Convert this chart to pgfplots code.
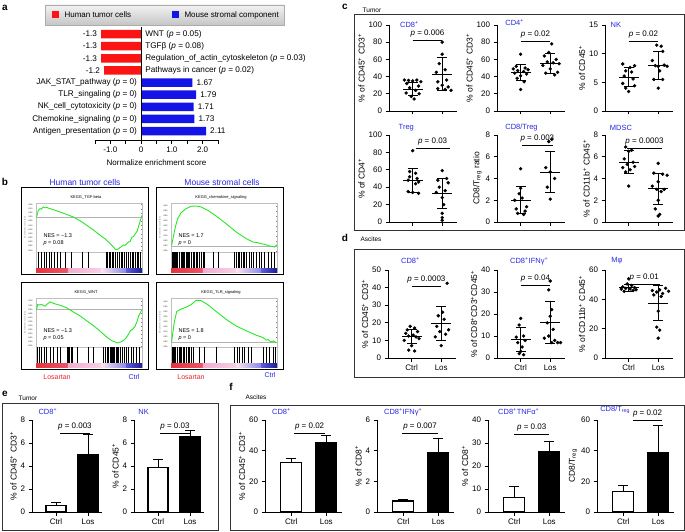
\documentclass[border=0pt]{standalone}
\usepackage{fontspec}
\setmainfont{Liberation Sans}
\usepackage{pgfplots}
\pgfplotsset{compat=1.18}
\definecolor{myblue}{RGB}{40,40,225}
\definecolor{myred}{RGB}{230,40,50}
\definecolor{barred}{RGB}{250,20,20}
\definecolor{barblue}{RGB}{20,20,230}
\definecolor{esgreen}{RGB}{40,230,40}
\definecolor{cbred}{RGB}{230,50,60}
\definecolor{cbpink}{RGB}{242,172,208}
\definecolor{cbblue}{RGB}{40,40,210}
\newcommand{\fs}[1]{\fontsize{#1}{#1}\selectfont}
\pgfplotsset{
  base/.style={scale only axis, clip=false, /pgf/number format/assume math mode=true,
    axis x line*=bottom, axis y line*=left, tick align=outside,
    major tick length=3.5pt, axis line style={line width=0.8pt}, tick style={line width=0.8pt, black},
    tick label style={font=\fs{8}}, label style={font=\fs{8.5}},
    xtick={1,2}, xmin=0.2, xmax=2.5, ymin=0, ylabel shift=-3pt},
  scat/.style={base, width=68pt, xticklabels={}},
  scatd/.style={base, width=68pt, xticklabels={Ctrl,Los}},
  barax/.style={base, xmin=0.25, xmax=2.45, xticklabels={Ctrl,Los}},
  pts/.style={only marks, mark=*, mark size=1.5pt, black},
  msd/.style={only marks, mark=-, mark size=10pt, black, mark options={line width=0.9pt},
    error bars/.cd, y dir=both, y explicit, error bar style={line width=0.9pt, black},
    error mark options={rotate=90, mark size=5pt, line width=0.9pt, black}},
  ctrlbar/.style={ybar, fill=white, draw=black, line width=1.1pt,
    error bars/.cd, y dir=plus, y explicit, error bar style={line width=1pt, black},
    error mark options={rotate=90, mark size=5pt, line width=1pt, black}},
  losbar/.style={ybar, fill=black, draw=black, line width=1.1pt,
    error bars/.cd, y dir=plus, y explicit, error bar style={line width=1pt, black},
    error mark options={rotate=90, mark size=5pt, line width=1pt, black}},
  gseaes/.style={scale only axis, width=106pt, height=49pt, xmin=0, xmax=100, xtick=\empty,
    ytick distance=0.05, tick label style={font=\fs{2}}, /pgf/number format/assume math mode=true,
    yticklabel style={/pgf/number format/fixed, /pgf/number format/precision=2, /pgf/number format/fixed zerofill},
    axis line style={gray!50, line width=0.3pt}, major tick length=1pt, tick style={gray, line width=0.2pt},
    ylabel={Enrichment score (ES)}, ylabel style={font=\fs{2.2}, gray}, ylabel shift=-5pt},
  gseabar/.style={scale only axis, width=106pt, height=20pt, xmin=0, xmax=100, ymin=-0.25, ymax=1,
    axis line style={gray!50, line width=0.3pt}, ticks=none, clip=false},
}
\newcommand{\pval}[4]{\draw[line width=0.8pt] (axis cs:#1,#3) -- (axis cs:#2,#3) node[midway, above=-0.5pt, font=\fs{8}] {\textit{p} = #4};}
\newcommand{\ttl}[3]{\node[anchor=west, font=\fs{7.5}, text=myblue, inner sep=0pt] at (rel axis cs:#1,1) [yshift=#2pt] {#3};}
\newcommand{\gsea}[9]{%
\begin{axis}[gseaes, at={({(#1+15)*1pt},{(531-#2-65)*1pt})}, anchor=south west, ymin=#5, ymax=#6]
\addplot[gray!60, line width=0.3pt] coordinates {(0,0) (100,0)};
\addplot[esgreen, line width=0.9pt] coordinates {#4};
\end{axis}
\begin{axis}[gseabar, at={({(#1+15)*1pt},{(531-#2-85)*1pt})}, anchor=south west]
\shade[left color=cbred, right color=cbred!70!cbpink] (axis cs:0,-0.25) rectangle (axis cs:30,0);
\shade[left color=cbpink, right color=cbpink!55!white] (axis cs:30,-0.25) rectangle (axis cs:62,0);
\shade[left color=cbpink!35!white, right color=cbblue!55!white] (axis cs:62,-0.25) rectangle (axis cs:85,0);
\shade[left color=cbblue!75!white, right color=cbblue!70!black] (axis cs:85,-0.25) rectangle (axis cs:100,0);
\addplot[black, only marks, mark=|, mark size=8pt, mark options={line width=0.45pt}] coordinates {#7};
\end{axis}
\draw[line width=0.9pt] ({#1},{531-#2}) rectangle ({#1+127},{531-#2-87});
\node[font=\fs{4}] at ({#1+65},{531-#2-10}) {#3};
\node[anchor=west, font=\fs{5.5}] at ({#1+19},{531-#2-49}) {NES = #8};
\node[anchor=west, font=\fs{5.5}] at ({#1+19},{531-#2-56}) {\textit{p} = #9};
}
\begin{document}
\begin{tikzpicture}[x=1pt,y=1pt]
\useasboundingbox (0,0) rectangle (685,531);
% ---------------- panel a ----------------
\node[font=\bfseries\fs{10}] at (5,523) {a};
\shade[top color=gray!10, bottom color=gray!45, draw=gray!65] (45,526) rectangle (284,506);
\fill[barred] (52,519.5) rectangle (59,512.5);
\node[anchor=west, font=\fs{8}] at (61,516) {Human tumor cells};
\fill[barblue] (172,519.5) rectangle (179,512.5);
\node[anchor=west, font=\fs{8}] at (181,516) {Mouse stromal component};
\begin{axis}[scale only axis, at={(95pt,391pt)}, anchor=south west, width=123pt, height=113pt,
  xmin=-1.5, xmax=2.5, ymin=0.26, ymax=9.58, axis x line*=bottom, axis y line=none, tick align=outside,
  xtick={-1.5,-1,-0.5,0,0.5,1,1.5,2,2.5}, xticklabels={,-1.0,,0,,1.0,,2.0,},
  major tick length=3.5pt, tick style={black, line width=0.8pt}, axis line style={line width=0.8pt},
  tick label style={font=\fs{8}}, xlabel={Normalize enrichment score}, xlabel style={font=\fs{8}},
  clip=false, bar width=8.5pt]
\addplot[xbar, fill=barred, draw=none] coordinates {(-1.3,9) (-1.3,8) (-1.3,7) (-1.2,6)};
\addplot[xbar, fill=barblue, draw=none] coordinates {(1.67,5) (1.79,4) (1.71,3) (1.73,2) (2.11,1)};
\draw[line width=0.8pt] (axis cs:0,0.26) -- (axis cs:0,9.58);
\begin{scope}[every node/.style={font=\fs{8.2}, inner sep=0pt}]
\node[anchor=east] at (axis cs:-1.3,9) [xshift=-4pt] {-1.3};
\node[anchor=east] at (axis cs:-1.3,8) [xshift=-4pt] {-1.3};
\node[anchor=east] at (axis cs:-1.3,7) [xshift=-4pt] {-1.3};
\node[anchor=east] at (axis cs:-1.2,6) [xshift=-4pt] {-1.2};
\node[anchor=west] at (axis cs:0,9) [xshift=4pt] {WNT (\textit{p} = 0.05)};
\node[anchor=west] at (axis cs:0,8) [xshift=4pt] {TGFβ (\textit{p} = 0.08)};
\node[anchor=west] at (axis cs:0,7) [xshift=4pt] {Regulation\_of\_actin\_cytoskeleton (\textit{p} = 0.03)};
\node[anchor=west] at (axis cs:0,6) [xshift=4pt] {Pathways in cancer (\textit{p} = 0.02)};
\node[anchor=east] at (axis cs:0,5) [xshift=-4pt] {JAK\_STAT\_pathway (\textit{p} = 0)};
\node[anchor=east] at (axis cs:0,4) [xshift=-4pt] {TLR\_singaling (\textit{p} = 0)};
\node[anchor=east] at (axis cs:0,3) [xshift=-4pt] {NK\_cell\_cytotoxicity (\textit{p} = 0)};
\node[anchor=east] at (axis cs:0,2) [xshift=-4pt] {Chemokine\_signaling (\textit{p} = 0)};
\node[anchor=east] at (axis cs:0,1) [xshift=-4pt] {Antigen\_presentation (\textit{p} = 0)};
\node[anchor=west] at (axis cs:1.67,5) [xshift=4pt] {1.67};
\node[anchor=west] at (axis cs:1.79,4) [xshift=4pt] {1.79};
\node[anchor=west] at (axis cs:1.71,3) [xshift=4pt] {1.71};
\node[anchor=west] at (axis cs:1.73,2) [xshift=4pt] {1.73};
\node[anchor=west] at (axis cs:2.11,1) [xshift=4pt] {2.11};
\end{scope}
\end{axis}
% ---------------- panel b ----------------
\node[font=\bfseries\fs{10}] at (5,349) {b};
\node[font=\fs{8.5}, text=myblue] at (85,349) {Human tumor cells};
\node[font=\fs{8.5}, text=myblue] at (222,349) {Mouse stromal cells};
\gsea{21}{187}{KEGG\_TGF-beta}
 {(0.6,0) (2.2,0.08) (3.8,0.10) (5,0.095) (6.9,0.12) (8.5,0.11) (10.1,0.115) (13.2,0.10) (17,0.085) (22.7,0.06) (28,0.035) (35.3,0) (41,-0.04) (47.9,-0.10) (54,-0.155) (60.6,-0.22) (65,-0.26) (70,-0.32) (73,-0.36) (74.8,-0.388) (76.5,-0.39) (77.9,-0.38) (80,-0.36) (82.6,-0.335) (84,-0.34) (87.4,-0.30) (89,-0.29) (90.5,-0.24) (92,-0.235) (93.7,-0.20) (95.5,-0.17) (96.8,-0.11) (98.5,-0.04) (100,0.02)}
 {-0.42}{0.168}
 {(2.2,0.5) (5.4,0.5) (7.6,0.5) (10.1,0.5) (12.6,0.5) (14.8,0.5) (17.4,0.5) (20.2,0.5) (23.3,0.5) (27.4,0.5) (33.1,0.5) (43.2,0.5) (49.5,0.5) (66.2,0.5) (67.5,0.5) (68.8,0.5) (70,0.5) (71.6,0.5) (73.2,0.5) (74.8,0.5) (77,0.5) (78.2,0.5) (80.1,0.5) (81.4,0.5) (83.3,0.5) (85.2,0.5) (87.4,0.5) (89,0.5) (90.9,0.5) (92.1,0.5) (93.7,0.5) (95.3,0.5) (96.8,0.5) (98.4,0.5)}
 {−1.3}{0.08}
\gsea{156}{187}{KEGG\_chemokine\_signaling}
 {(0.6,0.007) (2.2,0.09) (4.1,0.19) (6.3,0.273) (9.5,0.333) (14.2,0.373) (18.9,0.397) (23.7,0.40) (28.4,0.39) (34.7,0.357) (42.6,0.30) (52,0.223) (61.5,0.14) (71,0.073) (77.3,0.04) (81,0.035) (85.2,0.023) (89,0.015) (93.1,0) (97.8,-0.01) (100,0.013)}
 {-0.06}{0.43}
 {(0.9,0.5) (1.9,0.5) (2.8,0.5) (4.1,0.5) (5.0,0.5) (6.3,0.5) (7.3,0.5) (8.2,0.5) (9.5,0.5) (10.4,0.5) (11.7,0.5) (12.9,0.5) (14.2,0.5) (15.1,0.5) (16.4,0.5) (17.4,0.5) (18.9,0.5) (20.5,0.5) (22.1,0.5) (23.7,0.5) (25.2,0.5) (26.8,0.5) (28.4,0.5) (30,0.5) (31.5,0.5) (39.4,0.5) (44.2,0.5) (59.9,0.5) (61.5,0.5) (63.1,0.5) (64.7,0.5) (66.2,0.5) (67.8,0.5) (69.4,0.5) (71,0.5) (73.5,0.5) (75.7,0.5) (77.9,0.5) (80.4,0.5) (83,0.5) (85.2,0.5) (88.3,0.5) (91.5,0.5) (94.6,0.5) (97.8,0.5)}
 {1.7}{0}
\gsea{21}{282}{KEGG\_WNT}
 {(0.6,0) (1.6,0.06) (3,0.055) (5.4,0.06) (8.5,0.04) (11,0.07) (13.2,0.092) (15.5,0.08) (18,0.068) (23,0.05) (29,0.02) (35,-0.03) (41.6,-0.08) (48,-0.14) (54.3,-0.20) (60,-0.26) (66.9,-0.34) (71,-0.38) (74.8,-0.40) (77,-0.41) (79.5,-0.40) (82,-0.385) (84.2,-0.36) (86.5,-0.32) (89,-0.26) (91,-0.245) (92.1,-0.228) (93.7,-0.20) (95.5,-0.14) (96.8,-0.08) (98.5,-0.04) (100,0)}
 {-0.46}{0.14}
 {(1.3,0.5) (3.2,0.5) (5.4,0.5) (7.9,0.5) (10.1,0.5) (13.2,0.5) (16.4,0.5) (19.6,0.5) (22.7,0.5) (29,0.5) (30.6,0.5) (31.5,0.5) (32.8,0.5) (33.8,0.5) (38.5,0.5) (49.5,0.5) (54.3,0.5) (63.7,0.5) (65.3,0.5) (66.9,0.5) (68.5,0.5) (70,0.5) (71,0.5) (72,0.5) (73.2,0.5) (74.1,0.5) (75.4,0.5) (76.3,0.5) (77.9,0.5) (79.5,0.5) (81.1,0.5) (83.3,0.5) (85.2,0.5) (87.4,0.5) (89.6,0.5) (92.1,0.5) (94.6,0.5) (97.8,0.5)}
 {−1.3}{0.05}
\gsea{156}{282}{KEGG\_TLR\_signaling}
 {(0.6,0) (1.6,0.083) (3.2,0.2) (5.4,0.3) (9.5,0.323) (14.2,0.343) (18.9,0.367) (23.7,0.41) (28.4,0.407) (34.7,0.367) (42.6,0.30) (52,0.223) (61.5,0.157) (71,0.11) (80.4,0.067) (86.7,0.043) (88.5,0.03) (89.9,0.017) (91.5,0.023) (93,0.01) (94.6,0) (96.8,0.01) (99.4,-0.01)}
 {-0.05}{0.433}
 {(0.9,0.5) (1.9,0.5) (3.2,0.5) (4.1,0.5) (5.4,0.5) (6.3,0.5) (7.6,0.5) (8.8,0.5) (10.1,0.5) (11.4,0.5) (12.9,0.5) (14.2,0.5) (15.8,0.5) (17.4,0.5) (18.9,0.5) (20.5,0.5) (26.8,0.5) (31.5,0.5) (42.6,0.5) (59.9,0.5) (62.1,0.5) (64.7,0.5) (67.2,0.5) (69.4,0.5) (72.6,0.5) (75.7,0.5) (86.8,0.5) (89.9,0.5) (93.1,0.5) (96.2,0.5) (98.7,0.5)}
 {1.8}{0}
\node[font=\fs{7}, text=myred] at (57,154) {Losartan};
\node[font=\fs{7}, text=myblue] at (134,154) {Ctrl};
\node[font=\fs{7}, text=myred] at (191,154) {Losartan};
\node[font=\fs{7}, text=myblue] at (270,156) {Ctrl};
% ---------------- panel c ----------------
\node[font=\bfseries\fs{10}] at (345,524) {c};
\node[font=\fs{6.5}] at (372,521) {Tumor};
\draw[line width=1pt, black!80] (354,516) rectangle (684,301);
\begin{axis}[scat, at={(389pt,420pt)}, anchor=south west, height=86pt, ymax=100, ytick={0,20,40,60,80,100},
  ylabel={\% of CD45\textsuperscript{+} CD3\textsuperscript{+}}]
\addplot[pts] coordinates {(0.72,36) (0.86,35.5) (1.0,35) (1.14,36) (1.28,34) (0.8,32) (1.2,29) (0.9,27) (1.1,24) (0.78,21) (1.22,20) (0.95,17) (1.05,14)};
\addplot[pts] coordinates {(2.0,80) (2.0,66) (1.9,55) (2.1,48) (1.8,45) (2.15,36) (1.85,34) (2.0,30) (2.2,28) (1.85,26) (2.1,25) (2.3,24)};
\addplot[msd] coordinates {(1,25.5) +- (0,7.5) (2,43) +- (0,19)};
\ttl{0.16}{0}{CD8\textsuperscript{+}}
\pval{1}{2}{82.5}{0.006}
\end{axis}
\begin{axis}[scat, at={(497pt,420pt)}, anchor=south west, height=86pt, ymax=100, ytick={0,20,40,60,80,100},
  ylabel={\% of CD45\textsuperscript{+} CD3\textsuperscript{+}}]
\addplot[pts] coordinates {(1.0,66) (0.85,52) (1.15,50) (0.75,49) (1.25,48) (0.9,47) (1.1,46) (0.8,44) (1.2,43) (1.0,41) (0.88,38) (1.12,34) (1.0,25)};
\addplot[pts] coordinates {(2.05,78) (1.95,68) (1.8,64) (2.2,60) (1.9,57) (2.1,56) (2.3,55) (1.75,53) (2.0,49) (2.25,45) (1.85,44) (2.15,42)};
\addplot[msd] coordinates {(1,45) +- (0,9.5) (2,55.5) +- (0,11.5)};
\ttl{0.12}{2}{CD4\textsuperscript{+}}
\pval{1}{2}{81.4}{0.02}
\end{axis}
\begin{axis}[scat, at={(605pt,420pt)}, anchor=south west, height=86pt, ymax=15, ytick={0,5,10,15},
  ylabel={\% of CD45\textsuperscript{+}}]
\addplot[pts] coordinates {(0.8,8.2) (1.2,7.9) (1.05,7.6) (0.9,7.0) (1.1,6.8) (0.85,6.1) (1.15,5.6) (0.8,4.8) (1.2,4.4) (0.9,4.0) (1.0,3.4)};
\addplot[pts] coordinates {(1.95,11.5) (2.1,11.3) (2.15,10.4) (1.8,8.8) (2.2,8.0) (1.9,7.9) (2.0,7.8) (2.3,7.8) (2.05,7.0) (1.85,5.5) (2.15,5.5) (2.0,4.0)};
\addplot[msd] coordinates {(1,5.9) +- (0,1.7) (2,7.9) +- (0,2.4)};
\ttl{0.08}{0}{NK}
\pval{1}{2}{12.2}{0.02}
\end{axis}
\begin{axis}[scat, at={(389pt,309pt)}, anchor=south west, height=87pt, ymax=100, ytick={0,20,40,60,80,100},
  ylabel={\% of CD4\textsuperscript{+}}]
\addplot[pts] coordinates {(1.0,82) (0.9,58) (1.1,56) (0.9,52) (1.15,50) (0.85,48) (1.2,46) (1.1,44) (0.85,35) (1.0,34) (1.2,33)};
\addplot[pts] coordinates {(2.0,59) (2.15,50) (1.85,48) (2.2,45) (1.9,40) (2.1,36) (1.8,34) (2.0,28) (2.05,20) (2.0,10) (2.0,5) (2.0,2)};
\addplot[msd] coordinates {(1,48) +- (0,14) (2,33) +- (0,17)};
\ttl{0.14}{7}{Treg}
\pval{1.1}{2.25}{85}{0.03}
\end{axis}
\begin{axis}[scat, at={(497pt,309pt)}, anchor=south west, height=87pt, ymax=8, ytick={0,2,4,6,8},
  ylabel={CD8/T\textsubscript{reg} ratio}]
\addplot[pts] coordinates {(1.0,4.9) (1.0,3.1) (0.95,2.6) (1.05,2.2) (0.8,2.0) (1.2,1.4) (0.85,1.2) (1.15,1.0) (0.9,0.8) (1.1,0.7)};
\addplot[pts] coordinates {(2.05,7.6) (1.95,7.4) (1.85,5.0) (2.0,4.6) (2.15,4.0) (1.9,3.2) (2.0,2.1)};
\addplot[msd] coordinates {(1,2.0) +- (0,1.25) (2,4.6) +- (0,1.9)};
\ttl{0.12}{7}{CD8/Treg}
\pval{1.04}{2.09}{7.08}{0.003}
\end{axis}
\begin{axis}[scat, at={(605pt,309pt)}, anchor=south west, height=87pt, ymax=8, ytick={0,2,4,6,8},
  ylabel={\% of CD11b\textsuperscript{+} CD45\textsuperscript{+}}]
\addplot[pts] coordinates {(0.9,6.9) (1.1,6.6) (1.0,6.5) (0.85,5.8) (1.15,5.5) (0.95,5.3) (1.2,5.1) (0.8,5.0) (1.05,4.8) (0.9,4.6) (1.0,3.3)};
\addplot[pts] coordinates {(2.0,5.4) (1.85,4.5) (2.15,4.4) (2.3,4.3) (2.0,3.7) (1.8,3.3) (2.2,3.0) (1.95,3.0) (2.1,2.8) (2.0,2.0) (1.9,1.2) (2.05,0.7) (2.0,0.55)};
\addplot[msd] coordinates {(1,5.5) +- (0,1.05) (2,3.05) +- (0,1.45)};
\ttl{0.07}{7}{MDSC}
\pval{0.94}{2.13}{6.8}{0.0003}
\end{axis}
% ---------------- panel d ----------------
\node[font=\bfseries\fs{10}] at (345,293) {d};
\node[font=\fs{6.5}] at (371,292) {Ascites};
\draw[line width=1pt, black!80] (354,282) rectangle (684,154);
\begin{axis}[scatd, at={(388pt,173pt)}, anchor=south west, height=88pt, ymax=50, ytick={0,10,20,30,40,50},
  ylabel={\% of CD45\textsuperscript{+} CD3\textsuperscript{+}}]
\addplot[pts] coordinates {(0.95,18) (1.1,17) (0.85,16) (1.2,15) (0.8,14) (1.05,13) (0.9,12.5) (1.15,12) (1.25,11) (0.75,10) (1.0,7) (0.9,4.5) (1.1,4)};
\addplot[pts] coordinates {(2.2,42.5) (2.05,26) (1.9,24) (2.1,22) (1.85,18) (2.25,16) (1.95,15) (2.15,13.5) (1.8,12) (2.0,7)};
\addplot[msd] coordinates {(1,12) +- (0,4) (2,19.5) +- (0,9.8)};
\ttl{0.19}{9}{CD8\textsuperscript{+}}
\pval{1}{2}{40.9}{0.0003}
\end{axis}
\begin{axis}[scatd, at={(497pt,173pt)}, anchor=south west, height=88pt, ymax=40, ytick={0,10,20,30,40},
  ylabel={\% of CD8\textsuperscript{+}CD3\textsuperscript{+}CD45\textsuperscript{+}}]
\addplot[pts] coordinates {(1.0,18) (0.95,15) (1.1,10) (0.85,9.5) (1.15,8) (0.9,7) (1.05,5) (1.0,3) (0.95,2) (1.1,1.5)};
\addplot[pts] coordinates {(2.0,35) (1.95,31) (2.05,22) (2.0,19) (1.9,16) (2.1,13) (1.95,10) (1.8,9) (2.15,8) (2.25,7) (2.05,7) (2.35,7)};
\addplot[msd] coordinates {(1,8.5) +- (0,5.5) (2,16) +- (0,9.5)};
\ttl{0.19}{9}{CD8\textsuperscript{+}IFNγ\textsuperscript{+}}
\pval{1}{2}{33.2}{0.04}
\end{axis}
\begin{axis}[scatd, at={(605pt,173pt)}, anchor=south west, height=88pt, ymax=60, ytick={0,20,40,60},
  ylabel={\% of CD11b\textsuperscript{+} CD45\textsuperscript{+}}]
\addplot[pts] coordinates {(1.0,54) (0.95,50.5) (1.1,49.5) (0.8,48.5) (1.2,48) (0.9,47.5) (1.05,47) (0.75,47) (1.25,46.5) (1.15,46) (0.85,45.5)};
\addplot[pts] coordinates {(2.25,47.5) (2.05,46.5) (1.8,46) (2.35,45.5) (1.95,45) (2.15,44) (1.85,43) (2.1,42) (2.0,32) (1.95,21) (2.05,19) (2.0,13.5)};
\addplot[msd] coordinates {(1,48) +- (0,2.3) (2,37.5) +- (0,12)};
\ttl{0.09}{9}{Mφ}
\pval{1}{2.05}{50.5}{0.01}
\end{axis}
% ---------------- panel e ----------------
\node[font=\bfseries\fs{10}] at (5,137) {e};
\node[font=\fs{6.5}] at (28,133) {Tumor};
\draw[line width=1pt, black!80] (2,128) rectangle (218,1);
\begin{axis}[barax, at={(32pt,19pt)}, anchor=south west, width=70.4pt, height=92pt, ymax=8, ytick={0,2,4,6,8},
  bar width=20pt, ylabel={\% of CD45\textsuperscript{+} CD3\textsuperscript{+}}]
\addplot[ctrlbar] coordinates {(1,0.6) +- (0,0.2)};
\addplot[losbar] coordinates {(2,5.0) +- (0,1.75)};
\ttl{0.09}{8}{CD8\textsuperscript{+}}
\pval{1.12}{2.06}{6.87}{0.003}
\end{axis}
\begin{axis}[barax, at={(134pt,19pt)}, anchor=south west, width=70.4pt, height=92pt, ymax=8, ytick={0,2,4,6,8},
  bar width=20pt, ylabel={\% of CD45\textsuperscript{+}}]
\addplot[ctrlbar] coordinates {(1,3.9) +- (0,0.7)};
\addplot[losbar] coordinates {(2,6.55) +- (0,0.5)};
\ttl{0.06}{8}{NK}
\pval{1.06}{2.0}{6.87}{0.03}
\end{axis}
% ---------------- panel f ----------------
\node[font=\bfseries\fs{10}] at (231,144) {f};
\node[font=\fs{6.5}] at (256,134) {Ascites};
\draw[line width=1pt, black!80] (230,126) rectangle (684,1);
\begin{axis}[barax, at={(265pt,19pt)}, anchor=south west, width=77pt, height=92pt, ymax=60, ytick={0,20,40,60},
  bar width=21pt, ylabel={\% of CD45\textsuperscript{+} CD3\textsuperscript{+}}]
\addplot[ctrlbar] coordinates {(1,32.5) +- (0,2.5)};
\addplot[losbar] coordinates {(2,45) +- (0,5)};
\ttl{0.09}{8}{CD8\textsuperscript{+}}
\pval{1.08}{1.97}{51.5}{0.02}
\end{axis}
\begin{axis}[barax, at={(377pt,19pt)}, anchor=south west, width=77pt, height=92pt, ymax=6, ytick={0,2,4,6},
  bar width=21pt, ylabel={\% of CD8\textsuperscript{+}}]
\addplot[ctrlbar] coordinates {(1,0.72) +- (0,0.1)};
\addplot[losbar] coordinates {(2,3.85) +- (0,0.95)};
\ttl{0.09}{8}{CD8\textsuperscript{+}IFNγ\textsuperscript{+}}
\pval{0.96}{2.0}{5.15}{0.007}
\end{axis}
\begin{axis}[barax, at={(488pt,19pt)}, anchor=south west, width=77pt, height=92pt, ymax=40, ytick={0,10,20,30,40},
  bar width=21pt, ylabel={\% of CD8\textsuperscript{+}}]
\addplot[ctrlbar] coordinates {(1,6.5) +- (0,4.5)};
\addplot[losbar] coordinates {(2,26.3) +- (0,4.2)};
\ttl{0.13}{8}{CD8\textsuperscript{+}TNFα\textsuperscript{+}}
\pval{1}{2}{33.9}{0.03}
\end{axis}
\begin{axis}[barax, at={(597pt,19pt)}, anchor=south west, width=77pt, height=92pt, ymax=60, ytick={0,20,40,60},
  bar width=21pt, ylabel={CD8/T\textsubscript{reg}}]
\addplot[ctrlbar] coordinates {(1,13.5) +- (0,4)};
\addplot[losbar] coordinates {(2,39) +- (0,17.5)};
\ttl{0.04}{10}{CD8/T\textsubscript{reg}}
\pval{1.28}{2.11}{60}{0.02}
\end{axis}
\end{tikzpicture}
\end{document}
